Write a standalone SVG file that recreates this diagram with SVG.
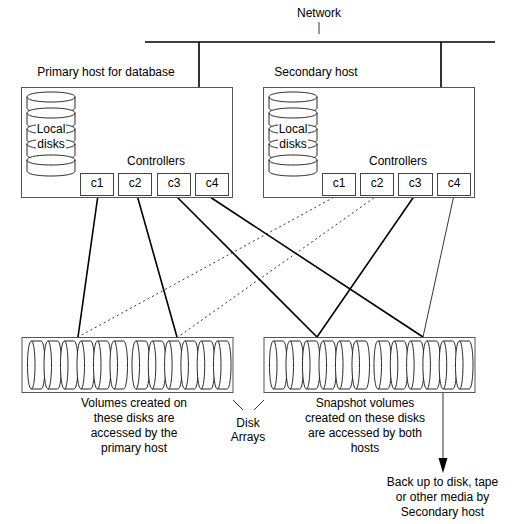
<svg xmlns="http://www.w3.org/2000/svg" width="528" height="524" viewBox="0 0 528 524">
<style>
text{font-family:"Liberation Sans",Arial,sans-serif;font-size:12px;fill:#000;text-anchor:middle}
.box{fill:#fff;stroke:#555;stroke-width:1}
.ctl{fill:#fff;stroke:#444;stroke-width:1}
.d{fill:#fff;stroke:#111;stroke-width:.9}
.s{stroke:#000;fill:none;stroke-width:1.6}
.t{stroke:#000;fill:none;stroke-width:.8}
.o{stroke:#000;fill:none;stroke-width:.8;stroke-dasharray:2 3}
</style>
<defs>
<g id="cyl"><path class="d" d="M4 0H13.500C16 0 17.500 11 17.500 24S16 48 13.500 48H4C1.500 48 0 37 0 24S1.500 0 4 0Z"/><path class="d" d="M4 0C6 0 7.500 11 7.500 24S6 48 4 48" style="fill:none"/></g>
<g id="platter"><path class="d" d="M0 5C0 2 10 0 24 0S48 2 48 5V16C48 19 38 21 24 21S0 19 0 16Z"/><path class="d" d="M0 5C0 8 10 10 24 10S48 8 48 5" style="fill:none"/></g>
</defs>
<g id="connectors">
<path class="s" d="M145 42H495M199 42V87M441 42V87"/>
<path class="t" d="M319 22V34"/>
<path class="s" d="M98 195L78 337M137 195L177 337M175 195L317 337M207 195L423 337M415 195L317 337"/>
<path class="t" d="M454 195L423 337"/>
<path class="o" d="M338 195L78 337M378 195L178 337"/>
<path class="t" d="M443 393V460"/>
<path d="M438.500 458H447.500L443 473Z" fill="#000"/>
<path class="t" d="M233 400L243 410M264 400L254 410"/>
</g>
<g id="network"><text x="319" y="17">Network</text></g>
<g id="primary-host">
<text x="106" y="76">Primary host for database</text>
<rect class="box" x="21.5" y="87.5" width="211" height="110"/>
<use href="#platter" x="27" y="92"/><use href="#platter" x="27" y="108"/><use href="#platter" x="27" y="124"/><use href="#platter" x="27" y="139"/><use href="#platter" x="27" y="155"/>
<rect x="36" y="122" width="30" height="29" fill="#fff"/>
<text x="51" y="133">Local</text><text x="51" y="148">disks</text>
<text x="156" y="165">Controllers</text>
<g id="p-c1"><rect class="ctl" x="80.5" y="173.5" width="33" height="22"/><text x="97" y="187">c1</text></g>
<g id="p-c2"><rect class="ctl" x="118.5" y="173.5" width="33" height="22"/><text x="135" y="187">c2</text></g>
<g id="p-c3"><rect class="ctl" x="157.5" y="173.5" width="33" height="22"/><text x="174" y="187">c3</text></g>
<g id="p-c4"><rect class="ctl" x="195.5" y="173.5" width="33" height="22"/><text x="212" y="187">c4</text></g>
</g>
<g id="secondary-host">
<text x="316" y="76">Secondary host</text>
<rect class="box" x="263.5" y="87.5" width="211" height="110"/>
<use href="#platter" x="269" y="92"/><use href="#platter" x="269" y="108"/><use href="#platter" x="269" y="124"/><use href="#platter" x="269" y="139"/><use href="#platter" x="269" y="155"/>
<rect x="278" y="122" width="30" height="29" fill="#fff"/>
<text x="293" y="133">Local</text><text x="293" y="148">disks</text>
<text x="398" y="165">Controllers</text>
<g id="s-c1"><rect class="ctl" x="322.5" y="173.5" width="33" height="22"/><text x="339" y="187">c1</text></g>
<g id="s-c2"><rect class="ctl" x="360.5" y="173.5" width="33" height="22"/><text x="377" y="187">c2</text></g>
<g id="s-c3"><rect class="ctl" x="398.5" y="173.5" width="34" height="22"/><text x="415" y="187">c3</text></g>
<g id="s-c4"><rect class="ctl" x="437.5" y="173.5" width="33" height="22"/><text x="454" y="187">c4</text></g>
</g>
<g id="array-left">
<rect class="box" x="22" y="337.5" width="211" height="55"/>
<use href="#cyl" x="27.500" y="341"/><use href="#cyl" x="44" y="341"/><use href="#cyl" x="60.500" y="341"/><use href="#cyl" x="77" y="341"/><use href="#cyl" x="93.500" y="341"/><use href="#cyl" x="110" y="341"/>
<use href="#cyl" x="132" y="341"/><use href="#cyl" x="148.300" y="341"/><use href="#cyl" x="164.600" y="341"/><use href="#cyl" x="180.900" y="341"/><use href="#cyl" x="197.200" y="341"/><use href="#cyl" x="213.500" y="341"/>
</g>
<g id="array-right">
<rect class="box" x="264" y="337.500" width="211" height="55"/>
<use href="#cyl" x="269.500" y="341"/><use href="#cyl" x="286" y="341"/><use href="#cyl" x="302.500" y="341"/><use href="#cyl" x="319" y="341"/><use href="#cyl" x="335.500" y="341"/><use href="#cyl" x="352" y="341"/>
<use href="#cyl" x="374" y="341"/><use href="#cyl" x="390.300" y="341"/><use href="#cyl" x="406.600" y="341"/><use href="#cyl" x="422.900" y="341"/><use href="#cyl" x="439.200" y="341"/><use href="#cyl" x="455.500" y="341"/>
</g>
<g id="labels">
<text x="134" y="407">Volumes created on</text><text x="134" y="422">these disks are</text><text x="134" y="437">accessed by the</text><text x="134" y="452">primary host</text>
<text x="248" y="427">Disk</text><text x="248" y="441">Arrays</text>
<text x="365" y="407">Snapshot volumes</text><text x="365" y="422">created on these disks</text><text x="365" y="437">are accessed by both</text><text x="365" y="452">hosts</text>
<text x="442.500" y="486">Back up to disk, tape</text><text x="442.500" y="501">or other media by</text><text x="442.500" y="516">Secondary host</text>
</g>
</svg>
